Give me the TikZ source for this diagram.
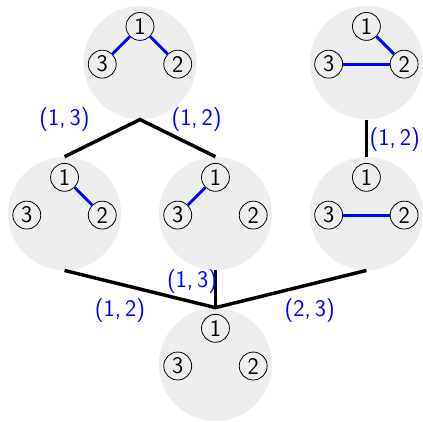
\documentclass[tikz,border=0pt]{standalone}
\usepackage{xcolor}
\usepackage{tikz}
\usetikzlibrary{positioning}
\definecolor{stateGray}{RGB}{238,238,238}
\definecolor{edgeBlue} {RGB}{0,  0,  255}

\tikzset{
  state/.style={circle,fill=stateGray,minimum size=3cm,inner sep=0pt},
  vert/.style={circle,draw,line width=0.6pt,minimum size=0.74cm,inner sep=0pt,
               font=\sffamily\fontsize{18}{20}\selectfont},
  link/.style={edgeBlue,line width=2.2pt},
  move/.style={black,line width=2.6pt},
  lbl/.style={edgeBlue,font=\sffamily\fontsize{18}{20}\selectfont},
}

\begin{document}
\begin{tikzpicture}

    \useasboundingbox (-1.71,-1.5) rectangle (9.5,9.66);

    % ── ESTADOS (CÍRCULOS CINZA) ───────────────────────────
    \node[state] (g1213) at (2,8){};
    \node[state] (g1223) at (8,8){};
    \node[state] (g12)   at (0,4){};
    \node[state] (g13)   at (4,4){};
    \node[state] (g23)   at (8,4){};
    \node[state] (g0)    at (4,0){};

    % ── TRANSIÇÕES ─────────────────────────────────────────
    \draw[move] (g12.north) -- (g1213.south) -- (g13.north);
    \draw[move] (g1223.south) -- (g23.north);
    \draw[move] (g12.south) -- (g0.north) -- (g23.south);
    \draw[move] (g13.south) -- (g0.north);

    \node[lbl] (l1) at (0,6.5)     {(1,\,3)};
    \node[lbl] (l2) at (3.5,6.5)   {(1,\,2)};
    \node[lbl] (l3) at (8.75,5.95) {(1,\,2)};
    \node[lbl] (l4) at (3.38,2.19) {(1,\,3)};
    \node[lbl] (l5) at (1.47,1.44) {(1,\,2)};
    \node[lbl] (l6) at (6.5,1.44)  {(2,\,3)};

    % ── GRAFO {12,13} ──────────────────────────────────────
    \node[vert] (a1) at (2,8.96) {1};
    \node[vert] (a2) at (3,7.96) {2};
    \node[vert] (a3) at (1,7.96) {3};
    \draw[link] (a1) -- (a3);
    \draw[link] (a1) -- (a2);

    % ── GRAFO {12,23} ──────────────────────────────────────
    \node[vert] (b1) at (8,8.96) {1};
    \node[vert] (b2) at (9,7.96) {2};
    \node[vert] (b3) at (7,7.96) {3};
    \draw[link] (b1) -- (b2);
    \draw[link] (b3) -- (b2);

    % ── GRAFO {12} ─────────────────────────────────────────
    \node[vert] (c1) at (0,4.96) {1};
    \node[vert] (c2) at (1,3.96) {2};
    \node[vert] (c3) at (-1,3.96) {3};
    \draw[link] (c1) -- (c2);

    % ── GRAFO {13} ─────────────────────────────────────────
    \node[vert] (d1) at (4,4.96) {1};
    \node[vert] (d2) at (5,3.96) {2};
    \node[vert] (d3) at (3,3.96) {3};
    \draw[link] (d1) -- (d3);

    % ── GRAFO {23} ─────────────────────────────────────────
    \node[vert] (e1) at (8,4.96) {1};
    \node[vert] (e2) at (9,3.96) {2};
    \node[vert] (e3) at (7,3.96) {3};
    \draw[link] (e3) -- (e2);

    % ── GRAFO VAZIO ────────────────────────────────────────
    \node[vert] (f1) at (4,0.96) {1};
    \node[vert] (f2) at (5,-0.04) {2};
    \node[vert] (f3) at (3,-0.04) {3};

\end{tikzpicture}
\end{document}
